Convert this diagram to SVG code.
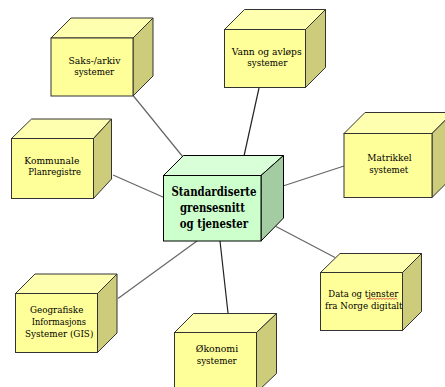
<svg xmlns="http://www.w3.org/2000/svg" width="445" height="387" viewBox="0 0 445 387">
  <style>
    .front { fill: #FFFF99; stroke: #333; stroke-width: 1; }
    .top { fill: #FFFFB0; stroke: #333; stroke-width: 1; stroke-linejoin: round; }
    .side { fill: #CCCC7A; stroke: #333; stroke-width: 1; stroke-linejoin: round; }
    .cfront { fill: #CCFFCC; stroke: #000; stroke-width: 1; }
    .ctop { fill: #D8FFD8; stroke: #000; stroke-width: 1; }
    .cside { fill: #A3CCA3; stroke: #000; stroke-width: 1; }
    .lbl { font-size: 10px; fill: #000; text-anchor: middle; }
    .clbl { font-size: 12px; font-weight: bold; fill: #000; text-anchor: middle; }
    .link { stroke: #666; stroke-width: 1.2; fill: none; }
    .link.dark { stroke: #222; }
  </style>
  <rect width="445" height="387" fill="#fff"/>

  <!-- connectors from the hub to each system -->
  <g id="connectors">
    <line class="link" x1="133.5" y1="96" x2="183" y2="157"/>
    <line class="link dark" x1="259" y1="88" x2="244" y2="156"/>
    <line class="link" x1="113" y1="175" x2="164" y2="197.5"/>
    <line class="link" x1="283" y1="186" x2="344" y2="166"/>
    <line class="link" x1="276" y1="226.5" x2="335" y2="257.5"/>
    <line class="link" x1="197" y1="241" x2="118" y2="298.5"/>
    <line class="link dark" x1="220" y1="241" x2="228" y2="313"/>
  </g>

  <!-- Saks-/arkiv systemer -->
  <g id="saks" font-family="DejaVu Serif">
    <polygon class="top" points="51,38 71,18 153,18 133,38"/>
    <polygon class="side" points="133,38 153,18 153,76 133,96"/>
    <rect class="front" x="51" y="38" width="82" height="58"/>
    <text class="lbl" x="94.5" y="63.5" textLength="52" lengthAdjust="spacingAndGlyphs">Saks-/arkiv</text>
    <text class="lbl" x="94.2" y="75" textLength="40" lengthAdjust="spacingAndGlyphs">systemer</text>
  </g>

  <!-- Vann og avløps systemer -->
  <g id="vann" font-family="DejaVu Serif">
    <polygon class="top" points="224.5,29.5 244.5,9.5 325.5,9.5 305.5,29.5"/>
    <polygon class="side" points="305.5,29.5 325.5,9.5 325.5,67.5 305.5,87.5"/>
    <rect class="front" x="224.5" y="29.5" width="81" height="58"/>
    <text class="lbl" x="266.7" y="55" textLength="70" lengthAdjust="spacingAndGlyphs">Vann og avløps</text>
    <text class="lbl" x="267.3" y="66" textLength="40" lengthAdjust="spacingAndGlyphs">systemer</text>
  </g>

  <!-- Kommunale Planregistre -->
  <g id="kommunale" font-family="DejaVu Serif">
    <polygon class="top" points="11.5,138.5 31.5,119 111.5,119 93.5,138.5"/>
    <polygon class="side" points="93.5,138.5 111.5,119 111.5,179 93.5,198.5"/>
    <rect class="front" x="11.5" y="138.5" width="82" height="60"/>
    <text class="lbl" x="51.8" y="163.5" textLength="55" lengthAdjust="spacingAndGlyphs">Kommunale</text>
    <text class="lbl" x="54.7" y="174.5" textLength="52.7" lengthAdjust="spacingAndGlyphs">Planregistre</text>
  </g>

  <!-- Matrikkel systemet -->
  <g id="matrikkel" font-family="DejaVu Serif">
    <polygon class="top" points="344,133.5 365,112.5 453,112.5 432,133.5"/>
    <polygon class="side" points="432,133.5 453,112.5 453,176.5 432,197.5"/>
    <rect class="front" x="344" y="133.5" width="88" height="64"/>
    <text class="lbl" x="389.5" y="160.5" textLength="44.4" lengthAdjust="spacingAndGlyphs">Matrikkel</text>
    <text class="lbl" x="388.8" y="173" textLength="39" lengthAdjust="spacingAndGlyphs">systemet</text>
  </g>

  <!-- Standardiserte grensesnitt og tjenester (hub) -->
  <g id="hub" font-family="DejaVu Serif">
    <polygon class="ctop" points="163.5,175.5 183.5,155.5 283.5,155.5 261,175.5"/>
    <polygon class="cside" points="261,175.5 283.5,155.5 283.5,218 261,241"/>
    <rect class="cfront" x="163.5" y="175.5" width="97.5" height="65.5"/>
    <text class="clbl" x="214" y="196" textLength="85" lengthAdjust="spacingAndGlyphs">Standardiserte</text>
    <text class="clbl" x="212.5" y="211.5" textLength="65" lengthAdjust="spacingAndGlyphs">grensesnitt</text>
    <text class="clbl" x="214" y="227.5" textLength="68.3" lengthAdjust="spacingAndGlyphs">og tjenester</text>
  </g>

  <!-- Data og tjenster fra Norge digitalt -->
  <g id="norgedigitalt" font-family="DejaVu Serif">
    <polygon class="top" points="320.5,272.5 340,253.5 421.5,253.5 402.5,272.5"/>
    <polygon class="side" points="402.5,272.5 421.5,253.5 421.5,311.5 402.5,330.5"/>
    <rect class="front" x="320.5" y="272.5" width="82" height="58"/>
    <text class="lbl" x="363.3" y="296.5" textLength="70" lengthAdjust="spacingAndGlyphs">Data og tjenster</text>
    <polyline points="367,299.5 368.5,298 370,299.5 371.5,298 373,299.5 374.5,298 376,299.5 377.5,298 379,299.5 380.5,298 382,299.5 383.5,298 385,299.5 386.5,298 388,299.5 389.5,298 391,299.5 392.5,298 394,299.5 395.5,298 397,299.5" fill="none" stroke="#E03030" stroke-width="0.8"/>
    <text class="lbl" x="363.8" y="308.5" textLength="77.7" lengthAdjust="spacingAndGlyphs">fra Norge digitalt</text>
  </g>

  <!-- Geografiske Informasjons Systemer (GIS) -->
  <g id="gis" font-family="DejaVu Serif">
    <polygon class="top" points="15.5,293.5 35,274 117,274 97.5,293.5"/>
    <polygon class="side" points="97.5,293.5 117,274 117,333 97.5,352.5"/>
    <rect class="front" x="15.5" y="293.5" width="82" height="59"/>
    <text class="lbl" x="56.7" y="312.5" textLength="53.3" lengthAdjust="spacingAndGlyphs">Geografiske</text>
    <text class="lbl" x="58.8" y="324.5" textLength="54.3" lengthAdjust="spacingAndGlyphs">Informasjons</text>
    <text class="lbl" x="59.2" y="336.5" textLength="68.3" lengthAdjust="spacingAndGlyphs">Systemer (GIS)</text>
  </g>

  <!-- Økonomi systemer -->
  <g id="okonomi" font-family="DejaVu Serif">
    <polygon class="top" points="174.5,332.5 193.5,313.5 276.5,313.5 256.5,332.5"/>
    <polygon class="side" points="256.5,332.5 276.5,313.5 276.5,373.5 256.5,392.5"/>
    <rect class="front" x="174.5" y="332.5" width="82" height="60"/>
    <text class="lbl" x="217" y="351.5" textLength="42.3" lengthAdjust="spacingAndGlyphs">Økonomi</text>
    <text class="lbl" x="216.7" y="363.5" textLength="40" lengthAdjust="spacingAndGlyphs">systemer</text>
  </g>
</svg>
